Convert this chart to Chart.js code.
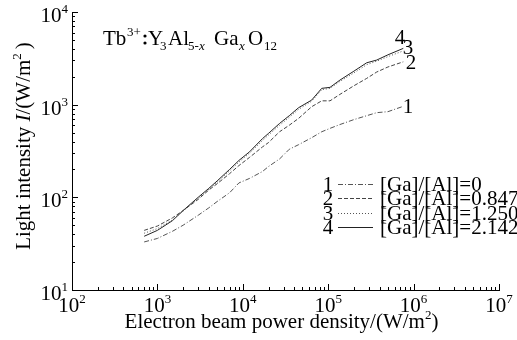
<!DOCTYPE html>
<html>
<head>
<meta charset="utf-8">
<script src="https://cdn.jsdelivr.net/npm/chart.js@4/dist/chart.umd.min.js"></script>
<style>
html,body{margin:0;padding:0;background:#fff;}
#wrap{width:517px;height:340px;position:relative;}
</style>
</head>
<body>
<div id="wrap"><canvas id="c" width="517" height="340"></canvas></div>
<script>
// ---- data ----
const powerDensity = [700, 1000, 1500, 2000, 3000, 4000, 5000, 7000, 9000, 12000, 17000, 20000, 27000, 35000, 45000, 64000, 84000, 105000, 137000, 200000, 282000, 370000, 500000, 757000];
const series1 = [33, 36, 43, 50, 64, 77, 90, 112, 143, 160, 190, 215, 260, 330, 370, 440, 510, 555, 610, 690, 760, 820, 840, 960];
const series2 = [44, 49, 60, 72, 95, 120, 140, 180, 220, 270, 350, 390, 511, 600, 711, 950, 1100, 1100, 1290, 1600, 1920, 2250, 2550, 2900];
const series3 = [41, 46, 57, 71, 98, 122, 145, 193, 240, 300, 410, 470, 600, 730, 890, 1090, 1450, 1500, 1780, 2200, 2700, 2950, 3300, 3800];
const series4 = [38, 44, 56, 72, 100, 125, 150, 200, 250, 310, 430, 490, 628, 760, 927, 1120, 1500, 1537, 1840, 2300, 2830, 3030, 3450, 4050];
const seriesNumbers = ['1', '2', '3', '4'];
const legendLabels = ['[Ga]/[Al]=0', '[Ga]/[Al]=0.847', '[Ga]/[Al]=1.250', '[Ga]/[Al]=2.142'];
const xTickExponents = [2, 3, 4, 5, 6, 7];
const yTickExponents = [1, 2, 3, 4];

const SERIF = '"Liberation Serif", "Times New Roman", serif';
const dashes = [[5, 2, 1, 2], [4, 2], [1, 2], []];
const lineColors = ['#555', '#444', '#555', '#222'];
const allSeries = [series1, series2, series3, series4];

function toPoints(ys) { return powerDensity.map((x, i) => ({x: x, y: ys[i]})); }

function font(size, italic) { return (italic ? 'italic ' : '') + size + 'px ' + SERIF; }

function richWidth(ctx, parts) {
  let w = 0;
  parts.forEach(p => { ctx.font = font(p.size, p.italic); w += ctx.measureText(p.t).width + (p.gap || 0); });
  return w;
}
function drawRich(ctx, parts, x, y) {
  let cx = x;
  parts.forEach(p => {
    ctx.font = font(p.size, p.italic);
    ctx.fillText(p.t, cx, y + (p.dy || 0));
    cx += ctx.measureText(p.t).width + (p.gap || 0);
  });
}

const decorPlugin = {
  id: 'decor',
  afterDraw(chart) {
    const ctx = chart.ctx;
    const xs = chart.scales.x, ys = chart.scales.y;
    const ca = chart.chartArea;
    ctx.save();
    ctx.strokeStyle = '#000';
    ctx.fillStyle = '#000';
    ctx.lineWidth = 1;
    // inward ticks
    ctx.beginPath();
    for (let e = xTickExponents[0]; e <= xTickExponents[xTickExponents.length - 1]; e++) {
      for (let m = 1; m <= 9; m++) {
        const v = m * Math.pow(10, e);
        if (v > xs.max * 1.0001) break;
        const px = Math.round(xs.getPixelForValue(v)) + 0.5;
        const len = m === 1 ? 6 : 3;
        ctx.moveTo(px, ca.bottom);
        ctx.lineTo(px, ca.bottom - len);
      }
    }
    for (let e = yTickExponents[0]; e <= yTickExponents[yTickExponents.length - 1]; e++) {
      for (let m = 1; m <= 9; m++) {
        const v = m * Math.pow(10, e);
        if (v > ys.max * 1.0001) break;
        const py = Math.round(ys.getPixelForValue(v)) + 0.5;
        const len = m === 1 ? 6 : 3;
        ctx.moveTo(ca.left, py);
        ctx.lineTo(ca.left + len, py);
      }
    }
    ctx.stroke();

    ctx.textAlign = 'left';
    ctx.textBaseline = 'alphabetic';
    // x tick labels
    xTickExponents.forEach(e => {
      const parts = [{t: '10', size: 21}, {t: String(e), size: 13, dy: -9}];
      const w = richWidth(ctx, parts);
      const px = xs.getPixelForValue(Math.pow(10, e));
      drawRich(ctx, parts, px - w / 2, 312);
    });
    // y tick labels
    yTickExponents.forEach(e => {
      const parts = [{t: '10', size: 21}, {t: String(e), size: 13, dy: -9}];
      const w = richWidth(ctx, parts);
      const py = ys.getPixelForValue(Math.pow(10, e));
      drawRich(ctx, parts, 68 - w, py + 10);
    });
    // x title
    {
      const parts = [{t: 'Electron beam power density/(W/m', size: 21}, {t: '2', size: 13, dy: -9}, {t: ')', size: 21}];
      const w = richWidth(ctx, parts);
      drawRich(ctx, parts, (ca.left + ca.right) / 2 - w / 2 - 4, 328);
    }
    // y title
    {
      ctx.save();
      ctx.translate(30, 146);
      ctx.rotate(-Math.PI / 2);
      const parts = [{t: 'Light intensity ', size: 21}, {t: 'I', size: 21, italic: true}, {t: '/(W/m', size: 21}, {t: '2', size: 13, dy: -9, gap: 4}, {t: ')', size: 21}];
      const w = richWidth(ctx, parts);
      drawRich(ctx, parts, -w / 2, 0);
      ctx.restore();
    }
    // formula annotation
    {
      const base = 45;
      const items = [
        {t: 'Tb', x: 103, size: 21},
        {t: '3+', x: 127, size: 13, dy: -9},
        {t: 'Y', x: 148, size: 21},
        {t: '3', x: 160, size: 13, dy: 5},
        {t: 'Al', x: 168, size: 21},
        {t: '5-', x: 188, size: 13, dy: 5},
        {t: 'x', x: 199, size: 13, dy: 5, italic: true},
        {t: 'Ga', x: 214, size: 21},
        {t: 'x', x: 239, size: 13, dy: 5, italic: true},
        {t: 'O', x: 248, size: 21},
        {t: '12', x: 264, size: 13, dy: 5}
      ];
      items.forEach(it => {
        ctx.font = font(it.size, it.italic);
        ctx.fillText(it.t, it.x, base + (it.dy || 0));
      });
      // bold full-width colon
      ctx.beginPath();
      ctx.arc(145, 36, 1.6, 0, Math.PI * 2);
      ctx.arc(145, 43, 1.6, 0, Math.PI * 2);
      ctx.fill();
    }
    // legend
    const rowY = [183.5, 198, 212.5, 227];
    seriesNumbers.forEach((n, i) => {
      const cy = rowY[i];
      ctx.font = font(21);
      ctx.textAlign = 'center';
      ctx.fillText(n, 328, cy + 7);
      ctx.textAlign = 'left';
      ctx.fillText(legendLabels[i], 380, cy + 7);
      ctx.save();
      ctx.strokeStyle = lineColors[i];
      ctx.setLineDash(dashes[i]);
      ctx.beginPath();
      ctx.moveTo(338, Math.round(cy) + 0.5);
      ctx.lineTo(373, Math.round(cy) + 0.5);
      ctx.stroke();
      ctx.restore();
    });
    // curve end labels
    const endPos = [[408, 106], [411, 62], [408, 47], [400, 37]];
    ctx.textAlign = 'center';
    ctx.font = font(21);
    seriesNumbers.forEach((n, i) => {
      ctx.fillText(n, endPos[i][0], endPos[i][1] + 7);
    });
    ctx.restore();
  }
};

new Chart(document.getElementById('c'), {
  type: 'scatter',
  data: {
    datasets: allSeries.map((s, i) => ({
      label: seriesNumbers[i],
      data: toPoints(s),
      showLine: true,
      borderColor: lineColors[i],
      borderWidth: 1,
      borderDash: dashes[i],
      pointRadius: 0,
      fill: false,
      tension: 0
    }))
  },
  options: {
    responsive: false,
    animation: false,
    layout: {padding: {left: 72, right: 18, top: 12, bottom: 50}},
    plugins: {legend: {display: false}, tooltip: {enabled: false}},
    scales: {
      x: {
        type: 'logarithmic', min: 100, max: 1e7,
        grid: {display: false, drawTicks: false},
        border: {display: true, color: '#000', width: 1},
        ticks: {display: false},
        title: {display: false}
      },
      y: {
        type: 'logarithmic', min: 10, max: 1e4,
        grid: {display: false, drawTicks: false},
        border: {display: true, color: '#000', width: 1},
        ticks: {display: false},
        title: {display: false}
      }
    }
  },
  plugins: [decorPlugin]
});
</script>
</body>
</html>
